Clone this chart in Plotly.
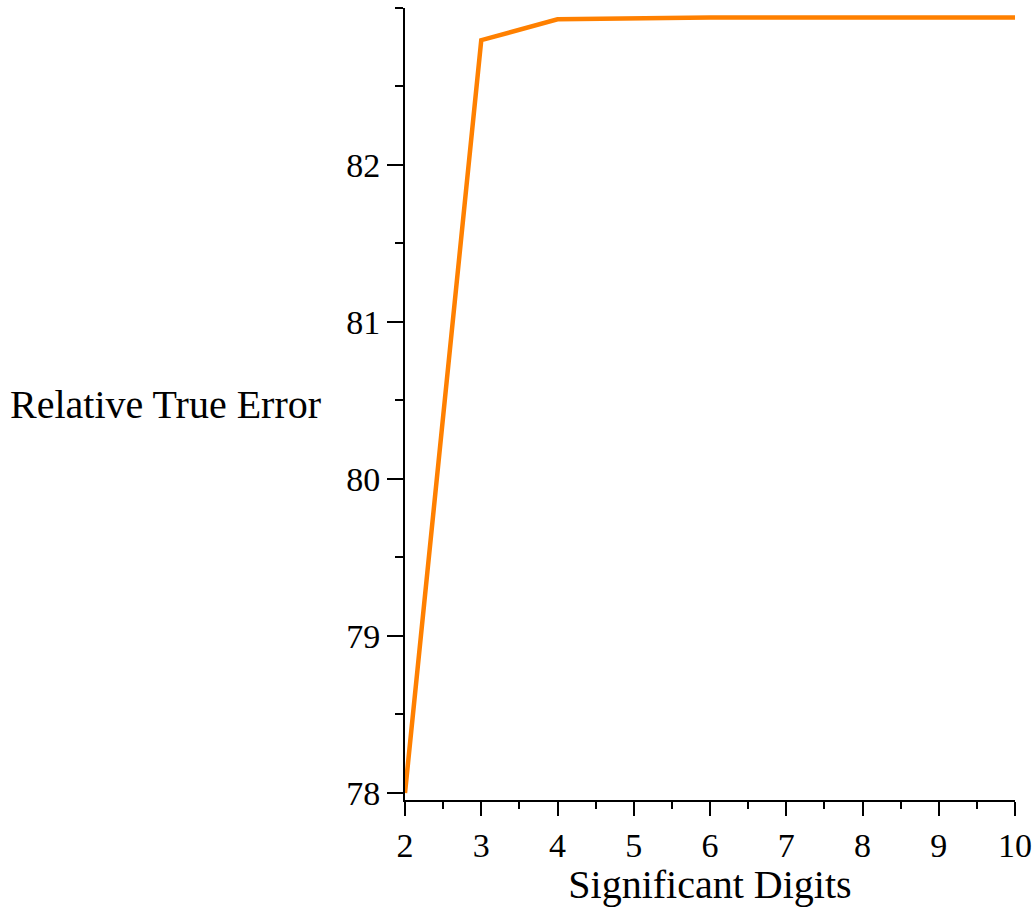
import plotly.graph_objects as go

digits = [2, 3, 4, 5, 6, 7, 8, 9, 10]
rel_error = [78.0, 82.795, 82.928, 82.936, 82.94, 82.94, 82.94, 82.94, 82.94]

FONT = "Liberation Serif"

fig = go.Figure()
fig.add_trace(go.Scatter(x=digits, y=rel_error, mode="lines",
                         line=dict(color="#FF8000", width=4.5), showlegend=False))

fig.update_layout(
    width=1034, height=907,
    margin=dict(l=405, r=19, t=8, b=107, autoexpand=False),
    plot_bgcolor="white", paper_bgcolor="white",
    font=dict(family=FONT, size=34, color="black"),
    xaxis=dict(range=[2, 10], tickvals=list(range(2, 11)), showgrid=False, zeroline=False,
               automargin=False,
               showline=True, linecolor="black", linewidth=2,
               ticks="outside", ticklen=14, tickwidth=2, tickcolor="black",
               minor=dict(dtick=0.5, ticks="outside", ticklen=7, tickwidth=2, tickcolor="black"),
               tickfont=dict(family=FONT, size=34),
               title=dict(text="Significant Digits", font=dict(family=FONT, size=40), standoff=4)),
    yaxis=dict(range=[77.955, 83.0], tickvals=[78, 79, 80, 81, 82], showgrid=False, zeroline=False,
               automargin=False,
               showline=True, linecolor="black", linewidth=2,
               ticks="outside", ticklen=16, tickwidth=2, tickcolor="black",
               minor=dict(dtick=0.5, ticks="outside", ticklen=8, tickwidth=2, tickcolor="black"),
               tickfont=dict(family=FONT, size=34)),
    annotations=[dict(text="Relative True Error", xref="paper", yref="paper",
                      x=0, y=0.5, xanchor="right", yanchor="middle", xshift=-82,
                      showarrow=False, font=dict(family=FONT, size=40))],
)

fig.write_html("out.html")
